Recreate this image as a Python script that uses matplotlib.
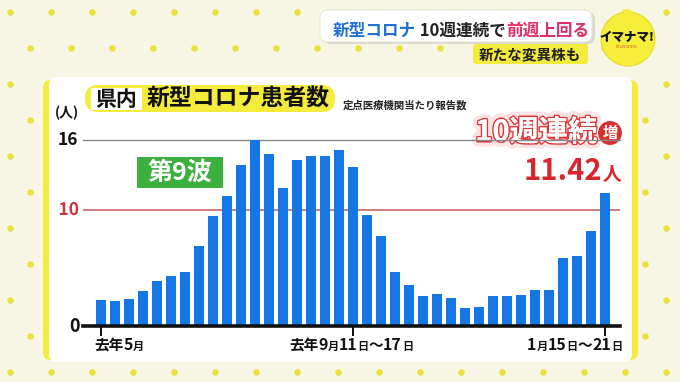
"""Weekly COVID-19 patients per sentinel site, TV graphic style."""

from matplotlib import pyplot as plt
from matplotlib.patches import FancyBboxPatch, Circle, Rectangle
import matplotlib.patheffects as pe

plt.rcParams["font.family"] = ["Noto Sans CJK JP", "DejaVu Sans"]

# patients per sentinel medical institution, weekly, last May .. Jan 15-21
patients = [2.21, 2.15, 2.29, 2.98, 3.84, 4.27, 4.64, 6.85, 9.46, 11.15,
            13.84, 16.0, 14.8, 11.9, 14.3, 14.6, 14.6, 15.1, 13.7, 9.57,
            7.74, 4.64, 3.55, 2.61, 2.72, 2.41, 1.55, 1.60, 2.55, 2.61,
            2.66, 3.07, 3.09, 5.87, 5.99, 8.17, 11.42]
tick_idx = [0, 18, 36]
tick_labels = [
    [("去年", 10.5), ("5", 11.5), ("月", 8)],
    [("去年", 10.5), ("9", 11.5), ("月", 8), ("11", 11.5), ("日", 8),
     ("～", 10.5), ("17", 11.5), ("日", 8)],
    [("1", 11.5), ("月", 8), ("15", 11.5), ("日", 8), ("～", 10.5),
     ("21", 11.5), ("日", 8)],
]
tick_align = ["left", "center", "right"]
tick_anchor = [94, 351, 622]

BLUE = "#1577e6"
RED = "#d8262e"
W, H = 680, 382


def rich(ax, x, y, pieces, ha="left", **kw):
    """Draw text pieces of varying size/colour on one baseline."""
    r = ax.figure.canvas.get_renderer()
    arts = []
    for p in pieces:
        txt, size = p[0], p[1]
        color = p[2] if len(p) > 2 else "#111111"
        t = ax.text(0, y, txt, fontsize=size, color=color, va="baseline",
                    fontweight="bold", **kw)
        arts.append(t)
    widths = [a.get_window_extent(r).width for a in arts]
    total = sum(widths)
    if ha == "center":
        x -= total / 2
    elif ha == "right":
        x -= total
    for a, w in zip(arts, widths):
        a.set_x(x)
        x += w
    return arts


def main():
    fig = plt.figure(figsize=(W / 100, H / 100), dpi=100)
    fig.patch.set_facecolor("#f7f5e4")
    bg = fig.add_axes([0, 0, 1, 1])
    bg.set_xlim(0, W)
    bg.set_ylim(H, 0)
    bg.axis("off")

    # dotted background
    for row in range(11):
        y = 12 + 36 * row
        x0 = 10 if row % 2 == 0 else 30
        xs = [x0 + 41 * k for k in range(17)]
        bg.scatter(xs, [y] * len(xs), s=22, color="#ece03a", lw=0, zorder=1)

    # panel
    bg.add_patch(FancyBboxPatch((43, 80), 595, 280, boxstyle="round,pad=0,rounding_size=8",
                                fc="#f2ec3a", ec="none", zorder=2))
    bg.add_patch(FancyBboxPatch((49, 77), 583, 285, boxstyle="round,pad=0,rounding_size=8",
                                fc="white", ec="none", zorder=3))

    # headline banner
    bg.add_patch(FancyBboxPatch((323, 12), 272, 32, boxstyle="round,pad=0,rounding_size=8",
                                fc="#d8d8cc", ec="none", zorder=4))
    bg.add_patch(FancyBboxPatch((320, 10), 272, 32, boxstyle="round,pad=0,rounding_size=8",
                                fc="white", ec="#e8e6d8", lw=0.8, zorder=5))
    rich(bg, 333, 36, [("新型コロナ", 12, "#1f6fd6"), (" 10週連続で", 12, "#222222"),
                       ("前週上回る", 12, "#df2f66")], zorder=6)
    bg.add_patch(FancyBboxPatch((473, 44), 115, 20, boxstyle="round,pad=0,rounding_size=3",
                                fc="#f4ec3c", ec="none", zorder=5))
    bg.text(530, 54, "新たな変異株も", fontsize=10.5, fontweight="bold", color="#222222",
            ha="center", va="center", zorder=6)

    # logo
    bg.add_patch(Circle((628, 39), 27, fc="#f5ee3a", ec="#e6dc2a", lw=0.8, zorder=5))
    bg.add_patch(Circle((628, 13), 4, fc="#f5ee3a", ec="none", zorder=5))
    bg.text(627, 37, "イマナマ!", fontsize=9, fontweight="heavy", color="#111111",
            ha="center", va="center", zorder=6)
    bg.text(627, 46, "imanama", fontsize=3.5, color="#d07020", ha="center",
            va="center", zorder=6)

    # title pill
    bg.add_patch(FancyBboxPatch((85, 85), 250, 27, boxstyle="round,pad=0,rounding_size=13",
                                fc="#f4ec3c", ec="none", zorder=4))
    bg.add_patch(Rectangle((91, 88), 51, 22, fc="white", ec="none", zorder=5))
    bg.text(116.5, 99, "県内", fontsize=15, fontweight="bold", color="#111111",
            ha="center", va="center", zorder=6)
    bg.text(147, 99, "新型コロナ患者数", fontsize=16.5, fontweight="bold", color="#111111",
            ha="left", va="center", zorder=6)
    bg.text(343, 105, "定点医療機関当たり報告数", fontsize=7.5, fontweight="bold",
            color="#222222", ha="left", va="center", zorder=6)

    # chart axes: x 83..620 px, y 0 at 326 px, 16 at 140 px
    ax = fig.add_axes([83 / W, (H - 326) / H, (620 - 83) / W, (326 - 140) / H])
    ax.set_zorder(5)
    ax.patch.set_alpha(0)
    x = list(range(len(patients)))
    ax.bar(x, patients, width=0.72, color=BLUE, zorder=3, clip_on=False)
    ax.set_xlim(-1.29, 37.07)
    ax.set_ylim(0, 16)
    ax.axhline(16, color="#8a8a8a", lw=1, zorder=1, clip_on=False)
    ax.axhline(10, color="#c85a5a", lw=1.1, zorder=2)
    ax.axhline(0, color="#111111", lw=2.6, zorder=4, clip_on=False)
    for s in ax.spines.values():
        s.set_visible(False)
    ax.set_xticks(tick_idx)
    ax.set_xticklabels([])
    ax.tick_params(axis="x", length=7, width=1.4, color="#111111", direction="out")
    ax.set_yticks([])

    # tick labels
    for pieces, ha, anchor in zip(tick_labels, tick_align, tick_anchor):
        rich(bg, anchor, 350, [(t, s, "#111111") for t, s in pieces], ha=ha, zorder=6)

    # y labels
    bg.text(67, 113, "(人)", fontsize=10, fontweight="bold", color="#111111",
            ha="center", va="center", zorder=6)
    bg.text(78, 140, "16", fontsize=12.5, fontweight="bold", color="#111111",
            ha="right", va="center", zorder=6)
    bg.text(79, 210, "10", fontsize=12.5, fontweight="bold", color="#d0303a",
            ha="right", va="center", zorder=6,
            path_effects=[pe.withStroke(linewidth=2.5, foreground="white")])
    bg.text(80, 326, "0", fontsize=13, fontweight="bold", color="#111111",
            ha="right", va="center", zorder=6)

    # wave label
    bg.add_patch(Rectangle((137, 157), 86, 31, fc="#3bb03e", ec="none", zorder=6))
    bg.text(180, 172.5, "第9波", fontsize=18, fontweight="bold", color="white",
            ha="center", va="center", zorder=7)

    # annotations
    glow = [pe.withStroke(linewidth=8, foreground="#f9cfcf", alpha=0.55),
            pe.withStroke(linewidth=2.2, foreground="#e0363a"),
            pe.Normal()]
    bg.text(597, 132, "10週連続", fontsize=21, fontweight="bold", color="white",
            ha="right", va="center", zorder=7, path_effects=glow)
    bg.add_patch(Circle((610, 133), 12.5, fc="#d8302e", ec="white", lw=0.8, zorder=7))
    bg.text(610, 133, "増", fontsize=11, fontweight="bold", color="white",
            ha="center", va="center", zorder=8)
    rich(bg, 621, 180, [("11.42", 21, RED), ("人", 13.5, RED)], ha="right", zorder=7)

    fig.savefig("out.png", dpi=100, facecolor=fig.get_facecolor())
    plt.close(fig)


if __name__ == "__main__":
    main()
